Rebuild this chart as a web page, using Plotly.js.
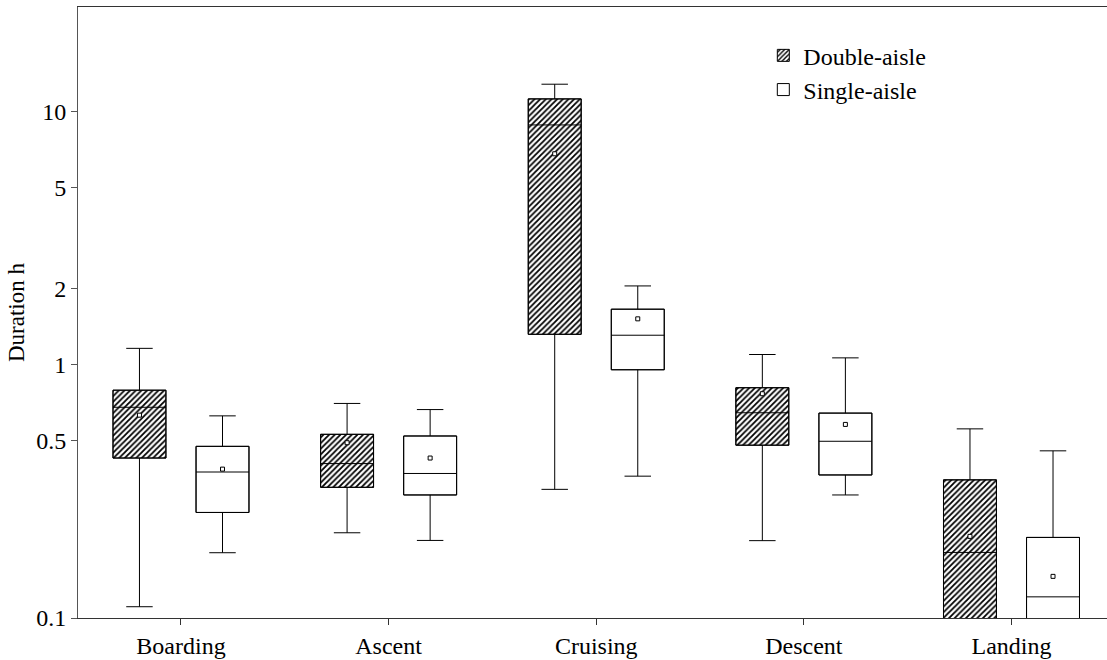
<!DOCTYPE html>
<html>
<head>
<meta charset="utf-8">
<script src="https://cdn.plot.ly/plotly-3.0.1.min.js"></script>
<style>html,body{margin:0;padding:0;background:#fff;}#chart{width:1107px;height:660px;}</style>
</head>
<body>
<div id="chart"></div>
<script>
// Categories (flight phases)
const categories = ["Boarding", "Ascent", "Cruising", "Descent", "Landing"];
const seriesNames = ["Double-aisle", "Single-aisle"];

// Double-aisle statistics (hours)
const doubleUpper  = [1.16, 0.703, 12.8, 1.097, 0.558];
const doubleQ3     = [0.793, 0.531, 11.2, 0.811, 0.351];
const doubleMedian = [0.679, 0.407, 8.84, 0.646, 0.1815];
const doubleMean   = [0.632, 0.492, 6.80, 0.768, 0.210];
const doubleQ1     = [0.428, 0.328, 1.318, 0.481, 0.08];
const doubleLower  = [0.1108, 0.217, 0.322, 0.202, 0.05];

// Single-aisle statistics (hours)
const singleUpper  = [0.628, 0.665, 2.046, 1.064, 0.457];
const singleQ3     = [0.476, 0.523, 1.656, 0.644, 0.208];
const singleMedian = [0.377, 0.372, 1.307, 0.4985, 0.1212];
const singleMean   = [0.387, 0.428, 1.517, 0.581, 0.146];
const singleQ1     = [0.261, 0.306, 0.955, 0.367, 0.07];
const singleLower  = [0.181, 0.2024, 0.363, 0.306, 0.04];

// Y tick labels
const yTickVals = [0.1, 0.5, 1, 2, 5, 10];
const yTickText = ["0.1", "0.5", "1", "2", "5", "10"];

const FONT = "'Liberation Serif', 'Times New Roman', serif";
const offset = 0.2;
const boxW = 0.255;
const xD = categories.map((c, i) => i - offset);
const xS = categories.map((c, i) => i + offset);

function diff(a, b) { return a.map((v, i) => v - b[i]); }

const traces = [
  // hatched fill for double-aisle boxes
  {
    type: "bar", name: seriesNames[0], x: xD, y: diff(doubleQ3, doubleQ1), base: doubleQ1,
    width: boxW,
    marker: {color: "#ffffff", line: {color: "#000", width: 1},
             pattern: {shape: "/", fgcolor: "#000", bgcolor: "#fff", size: 4, solidity: 0.45}},
    hoverinfo: "skip", showlegend: true
  },
  // white fill for single-aisle boxes
  {
    type: "bar", name: seriesNames[1], x: xS, y: diff(singleQ3, singleQ1), base: singleQ1,
    width: boxW,
    marker: {color: "#ffffff", line: {color: "#000", width: 1}},
    hoverinfo: "skip", showlegend: true
  },
  {
    type: "box", name: seriesNames[0], x: xD,
    q1: doubleQ1, median: doubleMedian, q3: doubleQ3,
    lowerfence: doubleLower, upperfence: doubleUpper,
    width: boxW, whiskerwidth: 0.5, boxpoints: false,
    fillcolor: "rgba(0,0,0,0)", line: {color: "#000", width: 1},
    showlegend: false, hoverinfo: "skip"
  },
  {
    type: "box", name: seriesNames[1], x: xS,
    q1: singleQ1, median: singleMedian, q3: singleQ3,
    lowerfence: singleLower, upperfence: singleUpper,
    width: boxW, whiskerwidth: 0.5, boxpoints: false,
    fillcolor: "rgba(0,0,0,0)", line: {color: "#000", width: 1},
    showlegend: false, hoverinfo: "skip"
  },
  {
    type: "scatter", mode: "markers", x: xD, y: doubleMean, showlegend: false, hoverinfo: "skip",
    marker: {symbol: "square", size: 4, color: "#fff", line: {color: "#000", width: 1}}
  },
  {
    type: "scatter", mode: "markers", x: xS, y: singleMean, showlegend: false, hoverinfo: "skip",
    marker: {symbol: "square", size: 4, color: "#fff", line: {color: "#000", width: 1}}
  }
];

const layout = {
  width: 1107, height: 660,
  margin: {l: 77.5, r: 0, t: 7, b: 42},
  paper_bgcolor: "#fff", plot_bgcolor: "#fff",
  font: {family: FONT, size: 24, color: "#000"},
  barmode: "overlay",
  showlegend: true,
  legend: {x: 0.666, y: 0.957, xanchor: "left", yanchor: "top",
           font: {family: FONT, size: 24, color: "#000"},
           bgcolor: "rgba(0,0,0,0)", tracegroupgap: 0, traceorder: "normal"},
  xaxis: {
    range: [-0.496, 4.46], tickvals: categories.map((c, i) => i), ticktext: categories,
    showgrid: false, zeroline: false, showline: true, linecolor: "#333", linewidth: 1,
    mirror: true, ticks: "outside", ticklen: 6, tickcolor: "#333",
    tickfont: {family: FONT, size: 24, color: "#000"}
  },
  yaxis: {
    type: "log", range: [-1, 1.412],
    tickvals: yTickVals, ticktext: yTickText,
    showgrid: false, zeroline: false, showline: true, linecolor: "#555", linewidth: 1,
    mirror: false, ticks: "outside", ticklen: 6, tickcolor: "#555",
    tickfont: {family: FONT, size: 24, color: "#000"},
    title: {text: "Duration h", font: {family: FONT, size: 23, color: "#000"}, standoff: 5}
  }
};

Plotly.newPlot("chart", traces, layout, {displayModeBar: false, staticPlot: true});
</script>
</body>
</html>
